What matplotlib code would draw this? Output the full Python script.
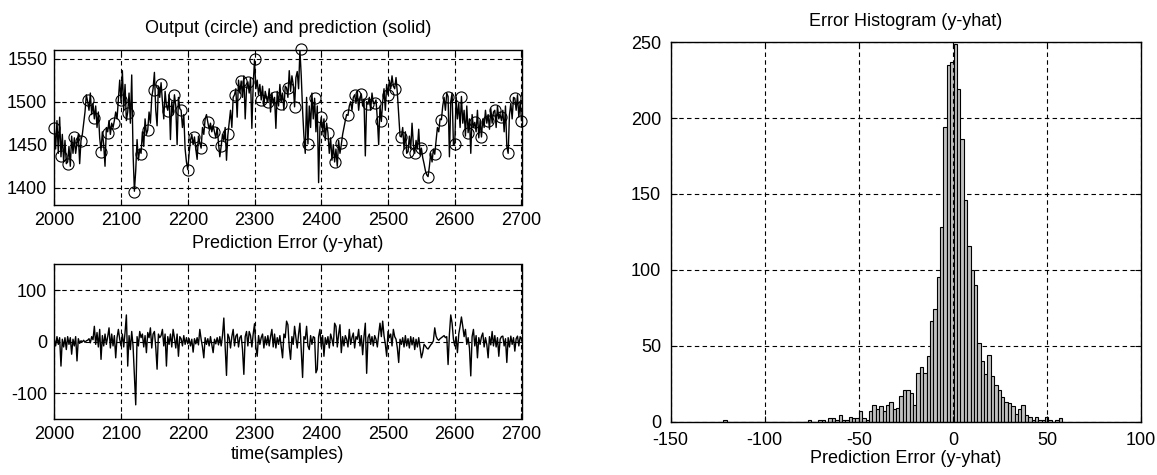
import numpy as np
import matplotlib
matplotlib.use("Agg")
import matplotlib.pyplot as plt

plt.rcParams['font.family'] = ['Liberation Sans', 'DejaVu Sans']
plt.rcParams['font.size'] = 13
plt.rcParams['axes.unicode_minus'] = False

# ---------------- data ----------------
t_start, t_end = 2000, 2700
pred_step = 2       # prediction / error sampled every 2 samples (as read)
circle_step = 10    # measured output shown every 10 samples

prediction = [
    1470, 1445, 1478, 1440, 1482,  1436, 1462, 1430, 1455, 1428,
    1430, 1448, 1425, 1460, 1440,  1458, 1440, 1452, 1462, 1428,
    1455, 1462, 1475, 1488, 1508,  1500, 1490, 1510, 1485, 1498,
    1480, 1495, 1470, 1488, 1458,  1443, 1465, 1450, 1425, 1470,
    1465, 1478, 1462, 1475, 1470,  1478, 1488, 1480, 1502, 1525,
    1500, 1536, 1490, 1520, 1478,  1488, 1510, 1475, 1531, 1440,
    1396, 1420, 1456, 1432, 1445,  1440, 1465, 1448, 1480, 1462,
    1467, 1488, 1475, 1505, 1515,  1534, 1490, 1472, 1518, 1505,
    1522, 1500, 1480, 1512, 1495,  1490, 1508, 1456, 1500, 1485,
    1508, 1495, 1450, 1505, 1492,  1490, 1470, 1485, 1445, 1430,
    1421, 1440, 1455, 1462, 1450,  1459, 1445, 1433, 1460, 1452,
    1446, 1470, 1462, 1480, 1485,  1476, 1468, 1475, 1465, 1472,
    1465, 1458, 1470, 1452, 1436,  1448, 1462, 1455, 1470, 1432,
    1461, 1475, 1490, 1470, 1505,  1508, 1515, 1482, 1525, 1510,
    1524, 1505, 1530, 1480, 1515,  1523, 1510, 1528, 1469, 1520,
    1549, 1515, 1525, 1508, 1520,  1502, 1518, 1495, 1512, 1505,
    1500, 1515, 1488, 1510, 1498,  1505, 1469, 1512, 1495, 1520,
    1500, 1510, 1490, 1518, 1516,  1505, 1536, 1512, 1530, 1520,
    1494, 1528, 1535, 1515, 1560,  1530, 1490, 1460, 1440, 1505,
    1451, 1495, 1470, 1510, 1480,  1504, 1465, 1495, 1406, 1470,
    1482, 1465, 1480, 1455, 1475,  1464, 1440, 1458, 1432, 1450,
    1430, 1445, 1425, 1455, 1440,  1450, 1462, 1470, 1478, 1485,
    1484, 1495, 1500, 1490, 1505,  1508, 1498, 1512, 1490, 1505,
    1509, 1495, 1503, 1437, 1500,  1497, 1505, 1490, 1510, 1498,
    1498, 1502, 1480, 1450, 1495,  1477, 1500, 1515, 1490, 1520,
    1508, 1525, 1515, 1530, 1518,  1515, 1528, 1510, 1485, 1460,
    1459, 1470, 1445, 1465, 1440,  1442, 1460, 1445, 1475, 1450,
    1440, 1455, 1445, 1468, 1438,  1446, 1435, 1428, 1420, 1415,
    1413, 1425, 1440, 1430, 1445,  1439, 1455, 1470, 1465, 1480,
    1479, 1495, 1505, 1490, 1510,  1506, 1436, 1500, 1510, 1450,
    1451, 1505, 1480, 1498, 1470,  1506, 1475, 1490, 1460, 1495,
    1464, 1480, 1440, 1485, 1470,  1476, 1465, 1490, 1458, 1478,
    1459, 1480, 1470, 1490, 1475,  1485, 1468, 1492, 1475, 1488,
    1490, 1470, 1495, 1480, 1485,  1478, 1490, 1465, 1495, 1448,
    1440, 1485, 1498, 1480, 1505,  1504, 1490, 1508, 1482, 1500,
    1478,
]

output = [
    1470, 1437, 1428, 1459, 1454, 1502, 1481, 1442, 1464, 1475,
    1502, 1487, 1395, 1439, 1467, 1514, 1521, 1489, 1508, 1490,
    1421, 1459, 1446, 1476, 1465, 1448, 1462, 1508, 1524, 1523,
    1549, 1502, 1500, 1505, 1497, 1516, 1494, 1561, 1451, 1504,
    1482, 1464, 1430, 1452, 1484, 1508, 1509, 1497, 1498, 1477,
    1508, 1515, 1459, 1442, 1440, 1446, 1413, 1439, 1479, 1506,
    1451, 1506, 1464, 1476, 1459, 1478, 1490, 1482, 1440, 1504,
    1478,
]

error = [
    5, -8, 10, -5, 8,      -47, 5, -10, 8, -15,
    10, -5, 8, -24, 5,     -8, 10, -37, 6, -3,
    2, 0, 3, -1, 2,        3, 6, -2, 10, 4,
    30, -5, 18, -10, 24,   -34, 12, -8, 15, -5,
    10, 27, -12, 15, -8,   12, -31, 8, 24, 5,
    -8, 15, -10, 18, 52,   -47, 12, -15, 20, -8,
    -63, -122, 10, -8, 20, 8, 15, -10, 12, -21,
    18, 8, 27, -12, 15,    20, -10, -53, 15, 8,
    12, 24, -8, 15, -47,   10, -5, 15, -10, 24,
    8, -12, 15, -28, 10,   6, -8, 12, -5, 8,
    -4, 6, -8, 5, -20,     6, -4, 8, -6, 24,
    5, -10, -31, 8, -5,    6, -8, 10, -6, -21,
    5, -4, 8, -6, 10,      -8, 12, 46, -10, -65,
    15, 8, -12, 10, 24,    -8, 11, 15, -10, 8,
    12, -15, -63, 10, 20,  -8, 20, 12, -10, 15,
    35, -10, -28, 12, -5,  8, 15, -12, 10, -6,
    12, -8, 10, 24, -10,   15, -12, 8, -5, 12,
    -10, -31, 15, 8, 40,   33, -10, -34, 10, -5,
    30, 8, -12, 15, 36,    -15, -69, 10, 5, 30,
    -8, -15, 12, -5, 10,   8, -60, -53, 10, 24,
    -10, 12, -28, 8, -5,   10, -12, 15, 5, -8,
    36, 30, -10, 15, 33,   -21, 10, -8, 12, 5,
    -10, 24, -5, 8, 17,    -12, 10, 5, 24, -8,
    12, -25, 10, 36, -61,  8, 15, -5, 10, -8,
    12, 5, -10, 15, 36,    10, 40, 12, -5, -28,
    20, 8, 15, -8, 24,     10, 5, -12, -40, 5,
    -5, 8, -10, 12, -8,    6, -12, 10, -6, 8,
    -15, 5, -10, 8, -12,   -31, -21, -5, -8, -12,
    -14, -10, -6, -3, 2,   27, 11, 5, 3, 6,
    8, 10, 12, 8, 10,      -44, 15, 52, 36, 5,
    -8, 10, -21, 15, 30,   48, 30, 10, 24, -5,
    8, -12, -66, 10, 24,   -8, 12, -31, 8, -5,
    10, 17, -10, 8, -5,    -31, 10, -6, 20, -8,
    12, -10, 8, -28, 5,    10, 11, -8, 6, -40,
    8, -10, 11, -5, 8,     -18, 6, 11, -8, 10,
    5,
]

hist_min, hist_max = -122.0, 58.0
hist_counts = [
    1, 0, 0, 0, 0, 0, 0, 0, 0, 0,
    0, 0, 0, 0, 0, 0, 0, 0, 0, 0,
    0, 0, 0, 0, 0, 1, 0, 0, 1, 1,
    0, 2, 2, 1, 4, 1, 1, 3, 2, 2,
    7, 2, 1, 7, 11, 8, 10, 7, 11, 13,
    8, 9, 17, 21, 21, 19, 11, 32, 36, 32,
    43, 66, 74, 95, 128, 194, 235, 237, 249, 219,
    186, 146, 116, 100, 90, 52, 40, 31, 44, 30,
    24, 21, 16, 13, 12, 10, 5, 8, 11, 4,
    3, 1, 3, 1, 1, 3, 1, 0, 1, 2,
]

title_top = "Output (circle) and prediction (solid)"
title_err = "Prediction Error (y-yhat)"
xlabel_time = "time(samples)"
title_hist = "Error Histogram (y-yhat)"
xlabel_hist = "Prediction Error (y-yhat)"

# ---------------- derived positions ----------------
t_pred = np.arange(t_start, t_end + 1, pred_step)
t_out = np.arange(t_start, t_end + 1, circle_step)
edges = np.linspace(hist_min, hist_max, len(hist_counts) + 1)
centers = (edges[:-1] + edges[1:]) / 2
bin_w = edges[1] - edges[0]

# ---------------- figure ----------------
W, H = 1157, 475
fig = plt.figure(figsize=(W / 100, H / 100), dpi=100)
fig.patch.set_facecolor('white')

def px_axes(left, top, right, bottom):
    return fig.add_axes([left / W, (H - bottom) / H, (right - left) / W, (bottom - top) / H])

grid_kw = dict(color='black', linestyle=(0, (4, 3)), linewidth=0.8)

def style(ax):
    ax.grid(True, **grid_kw)
    ax.tick_params(direction='in', length=4, width=0.8, top=True, right=True,
                   pad=5, labelsize=13, colors='black')
    for s in ax.spines.values():
        s.set_linewidth(1.0)
        s.set_color('black')

ax1 = px_axes(54.3, 50, 521.5, 205)
ax1.plot(t_pred, prediction, color='black', linewidth=1.0, zorder=3)
ax1.plot(t_out, output, linestyle='none', marker='o', markersize=8,
         markerfacecolor='none', markeredgecolor='black', markeredgewidth=0.8,
         zorder=4, clip_on=False)
ax1.set_xlim(2000, 2700)
ax1.set_ylim(1380, 1560)
ax1.set_xticks([2000, 2100, 2200, 2300, 2400, 2500, 2600, 2700])
ax1.set_yticks([1400, 1450, 1500, 1550])
style(ax1)
ax1.set_title(title_top, fontsize=13, pad=12)

ax2 = px_axes(54.3, 264.3, 521.5, 419.3)
ax2.plot(t_pred, error, color='black', linewidth=1.0, zorder=3)
ax2.set_xlim(2000, 2700)
ax2.set_ylim(-150, 150)
ax2.set_xticks([2000, 2100, 2200, 2300, 2400, 2500, 2600, 2700])
ax2.set_yticks([-100, 0, 100])
style(ax2)
ax2.set_title(title_err, fontsize=13, pad=11.5)
ax2.set_xlabel(xlabel_time, fontsize=13, labelpad=2)

ax3 = px_axes(670.7, 42.3, 1141, 421.5)
ax3.bar(centers, hist_counts, width=bin_w, color='#c0c0c0', edgecolor='black',
        linewidth=0.8, zorder=1)
ax3.set_xlim(-150, 100)
ax3.set_ylim(0, 250)
ax3.set_xticks([-150, -100, -50, 0, 50, 100])
ax3.set_yticks([0, 50, 100, 150, 200, 250])
style(ax3)
ax3.tick_params(axis='y', pad=7)
ax3.tick_params(axis='x', pad=7.5)
ax3.set_axisbelow(True)
ax3.xaxis.set_zorder(2.5)
ax3.set_title(title_hist, fontsize=13, pad=12)
ax3.set_xlabel(xlabel_hist, fontsize=13, labelpad=1)

fig.savefig('out.png', dpi=100, facecolor='white')
